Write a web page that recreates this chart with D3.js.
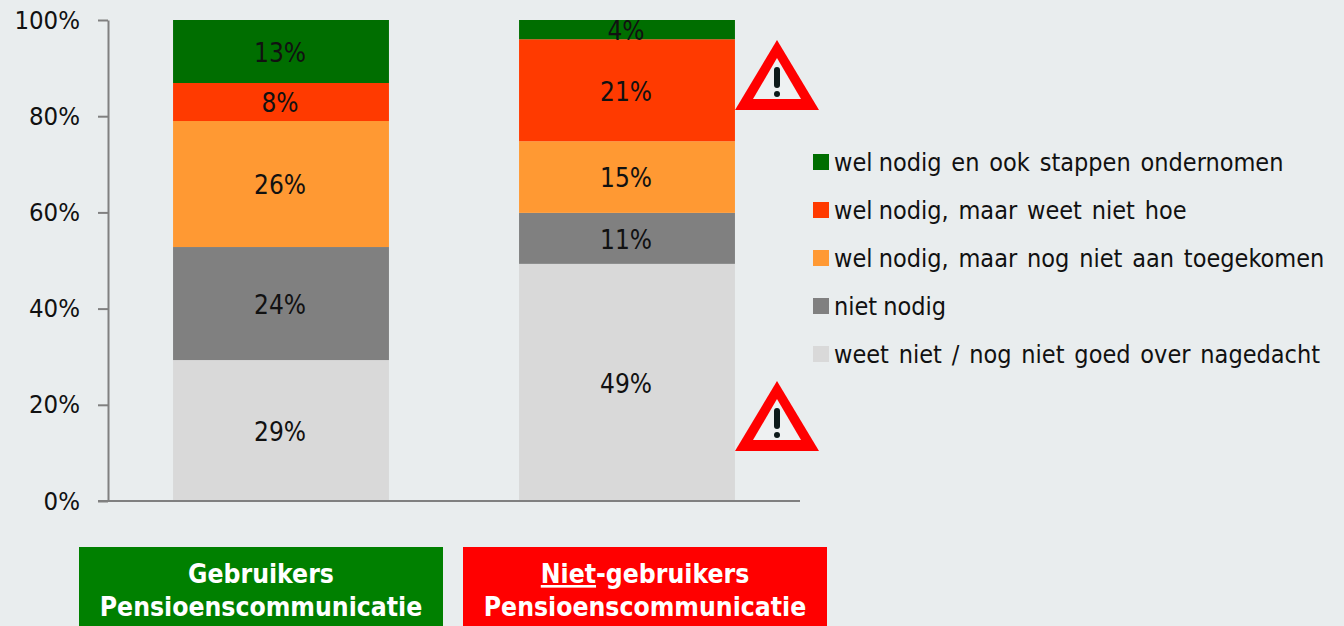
<!DOCTYPE html>
<html><head><meta charset="utf-8"><script src="https://cdn.jsdelivr.net/npm/d3@7"></script>
<style>html,body{margin:0;padding:0;background:#E9EDEE;overflow:hidden}
text{font-family:"DejaVu Sans Condensed","DejaVu Sans",sans-serif;fill:#111}</style></head><body><div id="c"></div>
<script>
const categories=["Gebruikers","Niet-gebruikers"];
const seriesNames=["weet niet / nog niet goed over nagedacht","niet nodig","wel nodig, maar nog niet aan toegekomen","wel nodig, maar weet niet hoe","wel nodig en ook stappen ondernomen"];
const seriesColors=["#D9D9D9","#808080","#FF9933","#FF3A00","#006E00"];
const gebruikers=[29.3,23.5,26.2,7.9,13.1];
const nietGebruikers=[49.3,10.6,14.9,21.2,4.0];
const labelsGebruikers=["29%","24%","26%","8%","13%"];
const labelsNiet=["49%","11%","15%","21%","4%"];
const yTicks=[0,20,40,60,80,100];
const W=1344,H=626,FS=25.5;
const svg=d3.select("#c").append("svg").attr("width",W).attr("height",H).style("display","block");
svg.append("rect").attr("width",W).attr("height",H).attr("fill","#E9EDEE");
const y=d3.scaleLinear().domain([0,100]).range([501,20]);
const x=d3.scaleBand().domain(categories).range([108,800]).paddingInner(0.376).paddingOuter(0.188);
const rows=[[categories[0],gebruikers,labelsGebruikers],[categories[1],nietGebruikers,labelsNiet]];
const barLayer=svg.append("g");
rows.forEach(([c,vals,labs])=>{
  let acc=0;
  vals.forEach((v,i)=>{
    const y0=y(acc),y1=y(acc+v);
    barLayer.append("rect").attr("x",x(c)).attr("width",x.bandwidth()).attr("y",y1).attr("height",y0-y1).attr("fill",seriesColors[i]);
    barLayer.append("text").attr("x",x(c)+x.bandwidth()/2-1).attr("y",(y0+y1)/2+1).attr("dy","0.36em").attr("text-anchor","middle").attr("font-size",26).text(labs[i]);
    acc+=v;
  });
});
const ax=svg.append("g").attr("transform","translate(108,0)").call(d3.axisLeft(y).tickValues(yTicks).tickFormat(d=>d+"%").tickSize(10).tickPadding(18).tickSizeOuter(0));
ax.selectAll("path,line").attr("stroke","#808080").attr("stroke-width",2);
ax.selectAll("text").attr("font-size",FS).style("font-family",'"DejaVu Sans Condensed","DejaVu Sans",sans-serif').attr("fill","#111");
svg.append("line").attr("x1",98).attr("x2",800).attr("y1",y(0)).attr("y2",y(0)).attr("stroke","#808080").attr("stroke-width",2);
// legend
const legendY=d3.scalePoint().domain([4,3,2,1,0]).range([162,354]);
[4,3,2,1,0].forEach(i=>{
  svg.append("rect").attr("x",813).attr("y",legendY(i)-8).attr("width",16).attr("height",16).attr("fill",seriesColors[i]);
  const t=svg.append("text").attr("x",834).attr("y",legendY(i)).attr("dy","0.36em").attr("font-size",25).style("word-spacing","2px");
  const words=seriesNames[i].split(" ");
  words.forEach((w,k)=>{
    const narrow=k===1&&(words[0]==="wel"||words[0]==="niet");
    t.append("tspan").attr("dx",k===0?0:(narrow?-3:0.7)).text((k?" ":"")+w);
  });
});
// warning signs
function warn(cx,top){
  const g=svg.append("g").attr("transform",`translate(${cx},${top})`);
  g.append("path").attr("d","M0,0 L42,70 L-42,70 Z").attr("fill","#FF0000");
  g.append("path").attr("d","M0,18 L24,59 L-24,59 Z").attr("fill","#EEF1F2");
  g.append("rect").attr("x",-3).attr("y",27).attr("width",6).attr("height",21).attr("rx",3).attr("fill","#0d1a1a");
  g.append("circle").attr("cy",54).attr("r",3).attr("fill","#0d1a1a");
}
warn(777,40);warn(777,381);
// banners
function banner(x0,color,l1,l2,u){
  svg.append("rect").attr("x",x0).attr("y",547).attr("width",364).attr("height",79).attr("fill",color);
  const t=svg.append("text").attr("x",x0+182).attr("y",583).attr("text-anchor","middle").attr("font-size",26.3).attr("font-weight","bold").style("fill","#fff");
  if(u)t.append("tspan").style("fill","#fff").attr("text-decoration","underline").text(u);
  t.append("tspan").style("fill","#fff").text(l1);
  svg.append("text").attr("x",x0+182).attr("y",616).attr("text-anchor","middle").attr("font-size",26.3).attr("font-weight","bold").style("fill","#fff").text(l2);
}
banner(79,"#008000","Gebruikers","Pensioenscommunicatie");
banner(463,"#FF0000","-gebruikers","Pensioenscommunicatie","Niet");
</script></body></html>
